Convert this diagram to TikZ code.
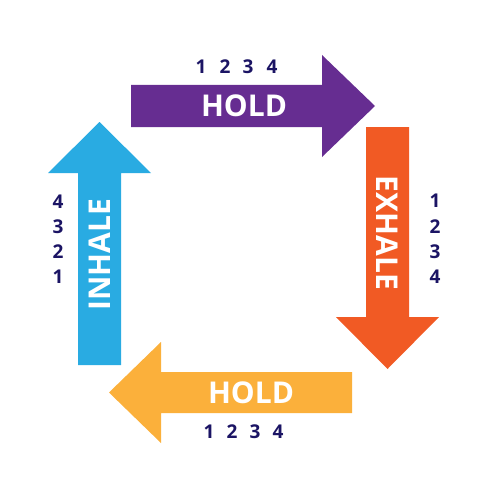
\documentclass[tikz,border=0pt]{standalone}
\usepackage{fontspec}
\setmainfont{Open Sans}
\definecolor{holdpurple}{HTML}{662D91}
\definecolor{exhaleorange}{HTML}{F15A24}
\definecolor{holdyellow}{HTML}{FBB03B}
\definecolor{inhaleblue}{HTML}{29ABE2}
\definecolor{countnavy}{HTML}{1B1464}
\tikzset{
  label/.style={text=white,font=\fontsize{30}{30}\selectfont\bfseries,inner sep=0pt},
  count/.style={text=countnavy,font=\fontsize{19}{19}\selectfont\bfseries,inner sep=0pt}
}
\begin{document}
\begin{tikzpicture}[x=1pt,y=-1pt]
\useasboundingbox (0,0) rectangle (500,500);
% arrows
\fill[holdpurple] (131,85) -- (322,85) -- (322,55) -- (375,106) -- (322,157) -- (322,127) -- (131,127) -- cycle;
\fill[exhaleorange] (366,127) -- (409,127) -- (409,317) -- (439,317) -- (387.5,369) -- (336,317) -- (366,317) -- cycle;
\fill[holdyellow] (352,372) -- (161,372) -- (161,342) -- (109,392.5) -- (161,443) -- (161,413) -- (352,413) -- cycle;
\fill[inhaleblue] (78,365) -- (78,173) -- (48,173) -- (99.5,122) -- (151,173) -- (121,173) -- (121,365) -- cycle;
% labels
\node[label] (holdtop) at (244,106) {HOLD};
\node[label,rotate=-90] (exhale) at (387.5,233) {EXHALE};
\node[label] (holdbottom) at (251,393) {HOLD};
\node[label,rotate=90] (inhale) at (99.5,255) {INHALE};
% counts
\foreach \i/\x in {1/201,2/225,3/248,4/272}
  \node[count] (top\i) at (\x,67) {\i};
\foreach \i/\y in {1/201,2/227,3/252,4/277}
  \node[count] (right\i) at (435,\y) {\i};
\foreach \i/\x in {1/209,2/232,3/255,4/278}
  \node[count] (bottom\i) at (\x,432) {\i};
\foreach \i/\y in {4/202,3/227,2/252,1/277}
  \node[count] (left\i) at (58,\y) {\i};
\end{tikzpicture}
\end{document}
